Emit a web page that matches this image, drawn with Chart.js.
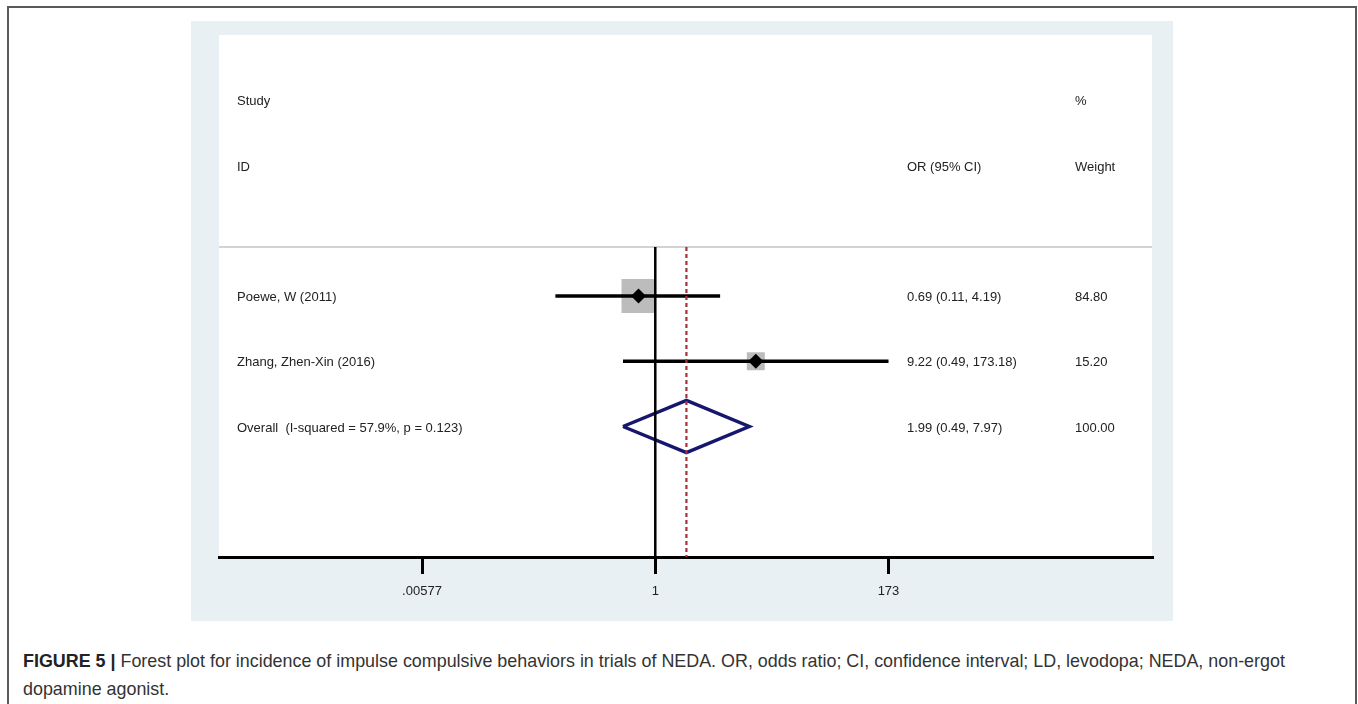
<!DOCTYPE html>
<html>
<head>
<meta charset="utf-8">
<script src="https://cdn.jsdelivr.net/npm/chart.js@4.4.1/dist/chart.umd.min.js"></script>
<style>
  body { margin: 0; width: 1358px; height: 704px; overflow: hidden; background: #fff; font-family: "Liberation Sans", Arial, sans-serif; }
  #frame { position: absolute; left: 7px; top: 6px; width: 1346px; height: 760px; border: 2px solid #5a5a5a; }
  #panel { position: absolute; left: 191px; top: 21px; width: 982px; height: 600px; background: #e8f0f3; }
  #caption { position: absolute; left: 23px; top: 647px; width: 1300px; font-size: 17.9px; line-height: 28px; color: #333; }
  #caption b { color: #222; }
</style>
</head>
<body>
<div id="frame"></div>
<div id="panel"><canvas id="forest" width="982" height="600"></canvas></div>
<div id="caption"><b>FIGURE 5 |</b> Forest plot for incidence of impulse compulsive behaviors in trials of NEDA. OR, odds ratio; CI, confidence interval; LD, levodopa; NEDA, non-ergot dopamine agonist.</div>
<script>
// study rows
const studies = ['Poewe, W (2011)', 'Zhang, Zhen-Xin (2016)'];
const oddsRatio = [0.69, 9.22];
const ciLow = [0.11, 0.49];
const ciHigh = [4.19, 173.18];
const weights = [84.80, 15.20];

// pooled estimate
const overallLabel = 'Overall  (I-squared = 57.9%, p = 0.123)';
const overallOR = 1.99;
const overallLow = 0.49;
const overallHigh = 7.97;
const overallWeight = 100.00;

// axis ticks
const tickValues = [0.00577, 1, 173];
const tickLabels = ['.00577', '1', '173'];

const xMin = 6.5e-5, xMax = 58500;
const sepY = 0.25;
const fmt = v => v.toFixed(2);
const oy = studies.length + 1, dh = 0.4;

// pushed bottom layer first, reversed at the end (Chart.js paints dataset 0 last)
const datasets = [];

// separator under the header
datasets.push({ data: [{x: xMin, y: sepY}, {x: xMax, y: sepY}], borderColor: '#c4c4c4', borderWidth: 1.5 });

// weight boxes
datasets.push({
  data: studies.map((s, i) => ({x: oddsRatio[i], y: i + 1})),
  showLine: false,
  pointStyle: 'rect',
  pointRadius: weights.map(w => 24 * Math.pow(w / weights[0], 0.37)),
  backgroundColor: '#bcbcbc', borderWidth: 0
});

// confidence intervals
studies.forEach((s, i) => {
  datasets.push({ data: [{x: ciLow[i], y: i + 1}, {x: ciHigh[i], y: i + 1}], borderColor: '#000', borderWidth: 3.5 });
});

// overall diamond
datasets.push({
  data: [{x: overallLow, y: oy}, {x: overallOR, y: oy - dh}, {x: overallHigh, y: oy}, {x: overallOR, y: oy + dh}, {x: overallLow, y: oy}],
  borderColor: '#16166e', borderWidth: 3.5, borderJoinStyle: 'miter'
});

// null line and pooled estimate line
datasets.push({ data: [{x: 1, y: sepY}, {x: 1, y: 5}], borderColor: '#000', borderWidth: 2.5 });
datasets.push({ data: [{x: overallOR, y: sepY}, {x: overallOR, y: 5}], borderColor: '#a3333a', borderWidth: 2.2, borderDash: [4, 3] });

// point estimates
datasets.push({
  data: studies.map((s, i) => ({x: oddsRatio[i], y: i + 1})),
  showLine: false, pointStyle: 'rectRot', pointRadius: 7.5,
  backgroundColor: '#000', borderWidth: 0
});

datasets.forEach(d => {
  d.fill = false; d.tension = 0;
  if (d.pointRadius === undefined) d.pointRadius = 0;
});
datasets.reverse();

const textPlugin = {
  id: 'textPlugin',
  beforeDraw(chart) {
    const {ctx, chartArea: a} = chart;
    ctx.save();
    ctx.fillStyle = '#fff';
    ctx.fillRect(a.left, a.top, a.right - a.left, a.bottom - a.top);
    ctx.restore();
  },
  afterDraw(chart) {
    const {ctx, chartArea: a, scales: {y}} = chart;
    const c1 = a.left + 18, c2 = a.left + 688, c3 = a.left + 856;
    ctx.save();
    ctx.font = '13px "Liberation Sans", Arial, sans-serif';
    ctx.fillStyle = '#222';
    ctx.textBaseline = 'middle';
    const put = (t, x, row) => ctx.fillText(t, x, y.getPixelForValue(row) + 1.5);
    put('Study', c1, -2); put('%', c3, -2);
    put('ID', c1, -1); put('OR (95% CI)', c2, -1); put('Weight', c3, -1);
    studies.forEach((s, i) => {
      put(s, c1, i + 1);
      put(fmt(oddsRatio[i]) + ' (' + fmt(ciLow[i]) + ', ' + fmt(ciHigh[i]) + ')', c2, i + 1);
      put(fmt(weights[i]), c3, i + 1);
    });
    put(overallLabel, c1, oy);
    put(fmt(overallOR) + ' (' + fmt(overallLow) + ', ' + fmt(overallHigh) + ')', c2, oy);
    put(fmt(overallWeight), c3, oy);
    ctx.restore();
  }
};

new Chart(document.getElementById('forest'), {
  type: 'line',
  data: { datasets },
  options: {
    responsive: false,
    animation: false,
    layout: { autoPadding: false, padding: { left: 28, right: 21, top: 14, bottom: 0 } },
    plugins: { legend: { display: false }, tooltip: { enabled: false } },
    scales: {
      x: {
        type: 'logarithmic', min: xMin, max: xMax,
        afterBuildTicks: s => { s.ticks = tickValues.map(v => ({value: v})); },
        afterFit: s => { s.height = 64; },
        ticks: {
          autoSkip: false, maxRotation: 0, padding: 10,
          color: '#222', font: { family: '"Liberation Sans", Arial, sans-serif', size: 13 },
          callback: (v, i) => tickLabels[i]
        },
        grid: { drawOnChartArea: false, drawTicks: true, tickLength: 17, lineWidth: 3, color: '#000' },
        border: { display: true, width: 3, color: '#000' }
      },
      y: { type: 'linear', reverse: true, min: -3, max: 5, display: false }
    }
  },
  plugins: [textPlugin]
});
</script>
</body>
</html>
